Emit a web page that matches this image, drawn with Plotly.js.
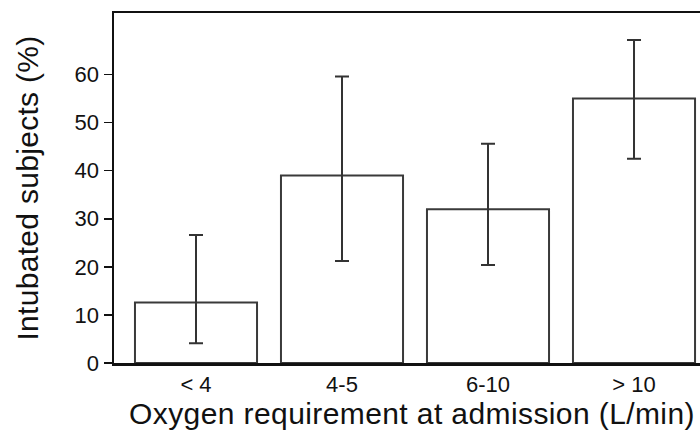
<!DOCTYPE html>
<html>
<head>
<meta charset="utf-8">
<script src="https://cdn.plot.ly/plotly-3.0.1.min.js"></script>
<style>
html,body{margin:0;padding:0;overflow:hidden;background:#fff}
#chart{width:700px;height:433px}
.xtitle{letter-spacing:0.4px;transform:translateX(5px)}
.ytitle{letter-spacing:0.3px}
</style>
</head>
<body>
<div id="chart"></div>
<script>
const categories = ["< 4", "4-5", "6-10", "> 10"];
const intubatedPct = [12.6, 39.0, 32.0, 55.0];
const ciUpper = [26.6, 59.6, 45.6, 67.2];
const ciLower = [4.1, 21.2, 20.4, 42.5];
const yTickVals = [0, 10, 20, 30, 40, 50, 60];

const errPlus = intubatedPct.map((v, i) => ciUpper[i] - v);
const errMinus = intubatedPct.map((v, i) => v - ciLower[i]);

const trace = {
  type: 'bar',
  x: [0, 1, 2, 3],
  y: intubatedPct,
  marker: {color: '#ffffff', line: {color: '#3a3a3a', width: 2}},
  error_y: {type: 'data', symmetric: false, array: errPlus, arrayminus: errMinus,
            color: '#333333', thickness: 2, width: 7},
  hoverinfo: 'skip'
};

const layout = {
  width: 700, height: 433,
  margin: {l: 114, r: 0, t: 13, b: 70},
  paper_bgcolor: '#ffffff', plot_bgcolor: '#ffffff',
  bargap: 0.164,
  showlegend: false,
  font: {family: 'Liberation Sans, Arial, sans-serif', color: '#111111'},
  xaxis: {
    range: [-0.5616, 3.452],
    tickvals: [0, 1, 2, 3], ticktext: categories,
    showline: true, linecolor: '#111111', linewidth: 2.5, mirror: true,
    ticks: '', showgrid: false, zeroline: false,
    tickfont: {size: 22},
    title: {text: 'Oxygen requirement at admission (L/min)', font: {size: 30}, standoff: 3}
  },
  yaxis: {
    range: [0, 72.8],
    tickvals: yTickVals,
    showline: true, linecolor: '#111111', linewidth: 2.5,
    ticks: 'outside', ticklen: 8, tickwidth: 1.5, tickcolor: '#111111',
    showgrid: false, zeroline: false,
    tickfont: {size: 22},
    title: {text: 'Intubated subjects (%)', font: {size: 30}, standoff: 27}
  }
};

Plotly.newPlot('chart', [trace], layout, {staticPlot: true, displayModeBar: false});
</script>
</body>
</html>
